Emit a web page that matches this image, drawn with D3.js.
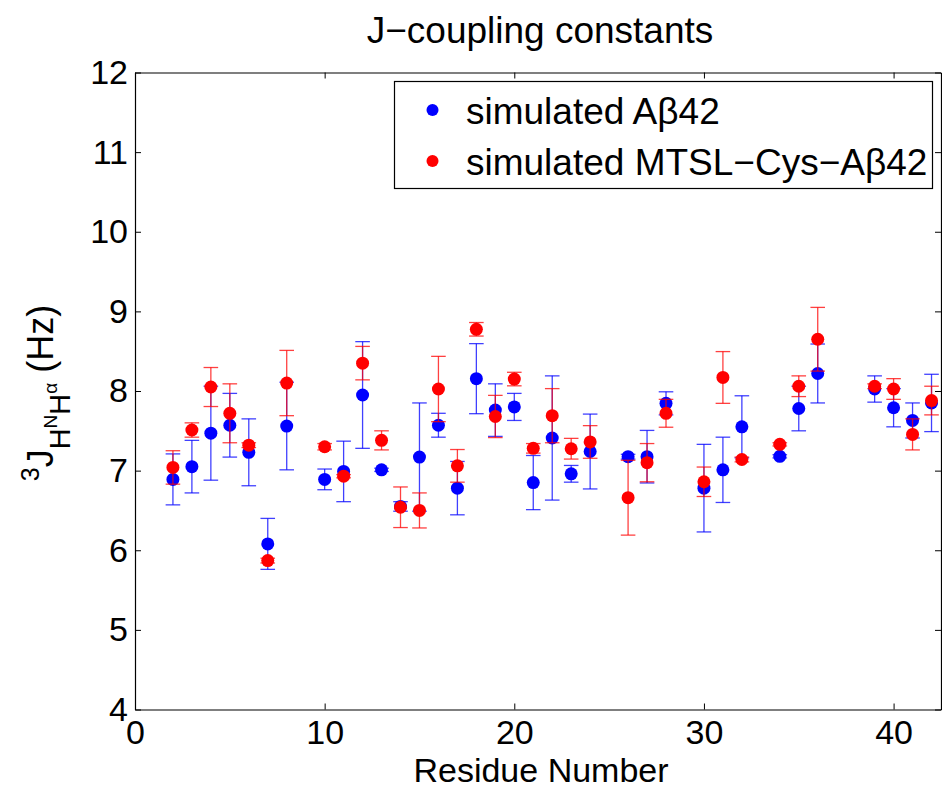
<!DOCTYPE html>
<html>
<head>
<meta charset="utf-8">
<script src="https://cdn.jsdelivr.net/npm/d3@7"></script>
<style>
  body { margin: 0; background: #fff; }
  text { font-family: "Liberation Sans", Arial, Helvetica, sans-serif; fill: #000; }
</style>
</head>
<body>
<svg id="chart" width="942" height="790"></svg>
<script>
// residues that have a value
let residues = [2, 3, 4, 5, 6, 7, 8, 10, 11, 12, 13, 14, 15, 16, 17, 18, 19, 20, 21, 22, 23, 24,
                26, 27, 28, 30, 31, 32, 34, 35, 36, 39, 40, 41, 42];

// simulated Abeta42
let wtValues = [6.89, 7.05, 7.47, 7.57, 7.23, 6.08, 7.56, 6.89, 6.99, 7.95, 7.01, 6.55, 7.17, 7.57, 6.78, 8.155,
                7.76, 7.80, 6.85, 7.41, 6.96, 7.24, 7.175, 7.175, 7.845, 6.78, 7.01, 7.55, 7.18, 7.78, 8.22,
                8.025, 7.79, 7.63, 7.85];
let wtErrors = [0.32, 0.33, 0.59, 0.40, 0.42, 0.32, 0.55, 0.13, 0.38, 0.67, 0.02, 0.06, 0.68, 0.15, 0.335, 0.44,
                0.33, 0.17, 0.34, 0.78, 0.105, 0.47, 0.03, 0.33, 0.145, 0.55, 0.41, 0.39, 0.02, 0.28, 0.37,
                0.165, 0.24, 0.22, 0.36];

// simulated MTSL-Cys-Abeta42
let mtslValues = [7.04, 7.51, 8.05, 7.72, 7.32, 5.87, 8.10, 7.30, 6.93, 8.35, 7.38, 6.54, 6.50, 8.025, 7.06, 8.775,
                  7.68, 8.15, 7.28, 7.69, 7.275, 7.36, 6.66, 7.10, 7.72, 6.86, 8.17, 7.14, 7.33, 8.06, 8.65,
                  8.06, 8.025, 7.455, 7.88];
let mtslErrors = [0.21, 0.09, 0.245, 0.37, 0.03, 0.03, 0.41, 0.04, 0.02, 0.21, 0.12, 0.255, 0.22, 0.41, 0.205, 0.085,
                  0.265, 0.085, 0.06, 0.34, 0.13, 0.205, 0.47, 0.24, 0.175, 0.185, 0.325, 0.03, 0.02, 0.13, 0.40,
                  0.03, 0.13, 0.195, 0.18];

let xTicks = [0, 10, 20, 30, 40],
    yTicks = [4, 5, 6, 7, 8, 9, 10, 11, 12];

let seriesNames = ['simulated A\u03B242', 'simulated MTSL\u2212Cys\u2212A\u03B242'],
    seriesColors = ['#0000ff', '#ff0000'];

let margin = { top: 72.5, right: 1, bottom: 80.5, left: 135 },
    totalWidth = 942,
    totalHeight = 790,
    width = totalWidth - margin.left - margin.right,
    height = totalHeight - margin.top - margin.bottom;

let svg = d3.select('#chart');

svg.append('rect')
  .attr('width', totalWidth)
  .attr('height', totalHeight)
  .attr('fill', '#fff');

let g = svg.append('g')
  .attr('transform', 'translate(' + margin.left + ',' + margin.top + ')');

let x = d3.scaleLinear().domain([0, 42.5]).range([0, width]);
let y = d3.scaleLinear().domain([4, 12]).range([height, 0]);

// axes, ticks pointing inward like matlab
let xAxis = d3.axisBottom(x).tickValues(xTicks).tickSizeInner(-6).tickSizeOuter(0).tickPadding(10);
let yAxis = d3.axisLeft(y).tickValues(yTicks).tickSizeInner(-6).tickSizeOuter(0).tickPadding(7);

g.append('g')
  .attr('class', 'x-axis')
  .attr('transform', 'translate(0,' + height + ')')
  .call(xAxis);

g.append('g')
  .attr('class', 'y-axis')
  .call(yAxis);

g.append('g')
  .attr('class', 'x-axis-top')
  .call(d3.axisTop(x).tickValues(xTicks).tickSizeInner(-6).tickSizeOuter(0).tickFormat(''));

g.append('g')
  .attr('class', 'y-axis-right')
  .attr('transform', 'translate(' + width + ',0)')
  .call(d3.axisRight(y).tickValues(yTicks).tickSizeInner(-6).tickSizeOuter(0).tickFormat(''));

g.selectAll('.domain').attr('stroke', '#000').attr('stroke-width', 1.2);
g.selectAll('.tick line').attr('stroke', '#000').attr('stroke-width', 1);
g.selectAll('.tick text')
  .style('font-size', '34px')
  .attr('fill', '#000');

// error bars + markers
let series = [
  { values: wtValues, errors: wtErrors, color: seriesColors[0] },
  { values: mtslValues, errors: mtslErrors, color: seriesColors[1] }
];

let capHalf = 7.3;

series.forEach(function (s, si) {
  let rows = residues.map(function (r, i) {
    return { res: r, val: s.values[i], err: s.errors[i] };
  });

  let bars = g.append('g')
    .attr('class', 'errorbars-' + si)
    .attr('stroke', s.color)
    .attr('stroke-width', 1.3)
    .attr('stroke-opacity', 0.75)
    .attr('fill', 'none');

  bars.selectAll('.vline')
    .data(rows)
    .enter()
    .append('line')
    .attr('x1', function (d) { return x(d.res); })
    .attr('x2', function (d) { return x(d.res); })
    .attr('y1', function (d) { return y(d.val - d.err); })
    .attr('y2', function (d) { return y(d.val + d.err); });

  bars.selectAll('.cap-top')
    .data(rows)
    .enter()
    .append('line')
    .attr('x1', function (d) { return x(d.res) - capHalf; })
    .attr('x2', function (d) { return x(d.res) + capHalf; })
    .attr('y1', function (d) { return y(d.val + d.err); })
    .attr('y2', function (d) { return y(d.val + d.err); });

  bars.selectAll('.cap-bottom')
    .data(rows)
    .enter()
    .append('line')
    .attr('x1', function (d) { return x(d.res) - capHalf; })
    .attr('x2', function (d) { return x(d.res) + capHalf; })
    .attr('y1', function (d) { return y(d.val - d.err); })
    .attr('y2', function (d) { return y(d.val - d.err); });

  g.append('g')
    .attr('class', 'dots-' + si)
    .selectAll('circle')
    .data(rows)
    .enter()
    .append('circle')
    .attr('cx', function (d) { return x(d.res); })
    .attr('cy', function (d) { return y(d.val); })
    .attr('r', 6.5)
    .attr('fill', s.color);
});

// title
svg.append('text')
  .attr('x', margin.left + width / 2 + 2)
  .attr('y', 43)
  .attr('text-anchor', 'middle')
  .style('font-size', '37px')
  .text('J\u2212coupling constants');

// x label
svg.append('text')
  .attr('x', margin.left + width / 2 + 3)
  .attr('y', 782)
  .attr('text-anchor', 'middle')
  .style('font-size', '34px')
  .text('Residue Number');

// y label: 3J_{H^N H^alpha} (Hz)
let yLabel = svg.append('text')
  .attr('transform', 'translate(53,393) rotate(-90)')
  .attr('text-anchor', 'middle')
  .style('font-size', '36px');

yLabel.append('tspan').style('font-size', '25px').attr('dy', -14).text('3');
yLabel.append('tspan').attr('dy', 14).text('J');
yLabel.append('tspan').style('font-size', '29px').attr('dy', 17).text('H');
yLabel.append('tspan').style('font-size', '19px').attr('dy', -13).text('N');
yLabel.append('tspan').style('font-size', '29px').attr('dy', 13).text('H');
yLabel.append('tspan').style('font-size', '19px').attr('dy', -13).text('\u03B1');
yLabel.append('tspan').attr('dy', -4).text(' (Hz)');

// legend
let legend = svg.append('g').attr('class', 'legend');

legend.append('rect')
  .attr('x', 394.5)
  .attr('y', 81.5)
  .attr('width', 538)
  .attr('height', 107)
  .attr('fill', '#fff')
  .attr('stroke', '#000')
  .attr('stroke-width', 1.2);

seriesNames.forEach(function (name, i) {
  let ly = 110 + i * 51;
  legend.append('circle')
    .attr('cx', 432.5)
    .attr('cy', ly)
    .attr('r', 6)
    .attr('fill', seriesColors[i]);
  legend.append('text')
    .attr('x', 466)
    .attr('y', ly + 14)
    .style('font-size', '37px')
    .text(name);
});
</script>
</body>
</html>
